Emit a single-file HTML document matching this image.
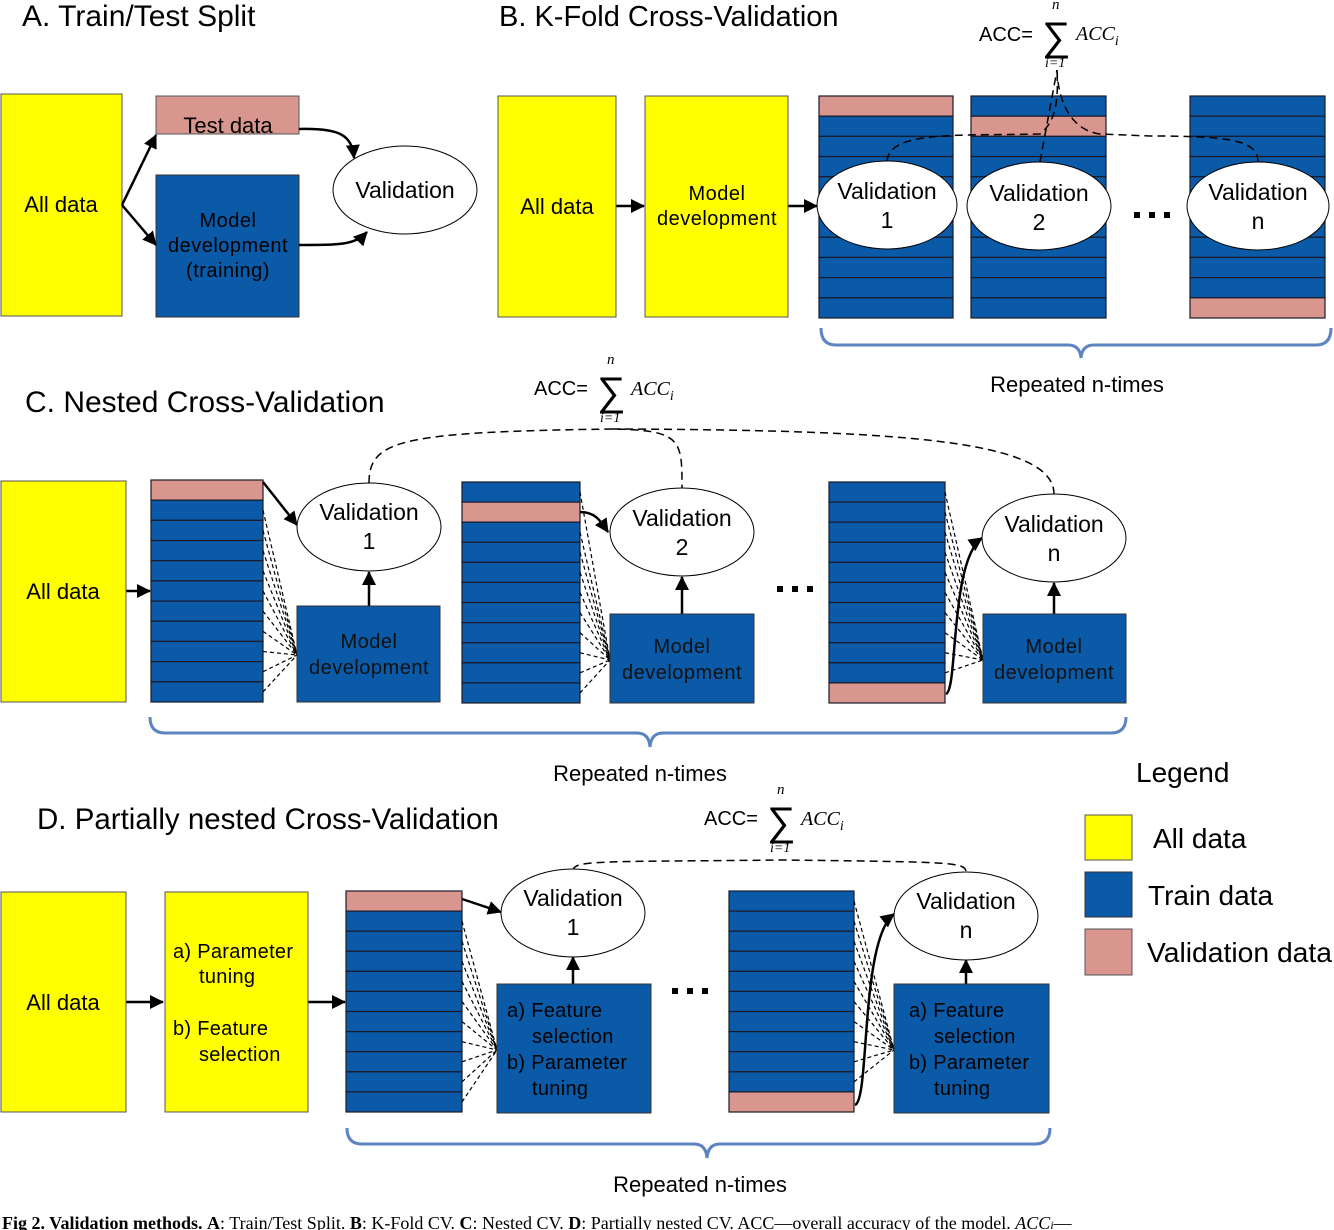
<!DOCTYPE html>
<html><head><meta charset="utf-8"><style>
body{margin:0;background:#fff}
svg{display:block}
text{font-family:"Liberation Sans",sans-serif;fill:#000}
.t{font-size:29px}
.l{font-size:28px}
.b{font-size:22px}
.e{font-size:23px}
.m{font-family:"Liberation Serif",serif;font-style:italic}
.cap{font-family:"Liberation Serif",serif;font-size:18px}
</style></head><body>
<svg id="s" width="1334" height="1230" viewBox="0 0 1334 1230" xmlns="http://www.w3.org/2000/svg">
<defs>
<marker id="ar" markerWidth="14" markerHeight="14" refX="13" refY="7" orient="auto" markerUnits="userSpaceOnUse"><path d="M0,0 L14,7 L0,14 z" fill="#000"/></marker>
</defs>
<g id="stk"></g>
<g fill="none" stroke="#000" stroke-width="1.5" stroke-dasharray="8,5">
<path d="M887,161 C890,130 960,136 1040,134 C1058,120 1058,95 1057,70"/>
<path d="M1040,162 L1057,70"/>
<path d="M1258,162 C1258,140 1230,136 1150,136 L1100,134 C1070,130 1058,100 1057,70"/>
<path d="M369,483 C369,440 400,432 612,429 C682,430 682,440 682,488"/>
<path d="M612,429 C900,430 1054,440 1054,494"/>
<path d="M573,870 C575,860 600,862 783,860 C950,862 966,862 966,872"/>
</g>
<text x="22" y="26" style="font-size:30px">A. Train/Test Split</text>
<rect x="1" y="94" width="121" height="222" fill="#ffff00" stroke="#555"/>
<text class="b" x="61" y="212" text-anchor="middle">All data</text>
<rect x="156" y="96" width="143" height="38" fill="#d8968e" stroke="#555"/>
<text class="b" x="228" y="133" text-anchor="middle">Test data</text>
<rect x="156" y="175" width="143" height="142" fill="#0b5aa7" stroke="#333"/>
<text font-size="20" x="228" y="227" text-anchor="middle" style="letter-spacing:0.5px">Model</text>
<text font-size="20" x="228" y="252" text-anchor="middle" style="letter-spacing:0.5px">development</text>
<text font-size="20" x="228" y="277" text-anchor="middle" style="letter-spacing:0.5px">(training)</text>
<ellipse cx="405" cy="190" rx="72" ry="44" fill="#fff" stroke="#000"/>
<text class="e" x="405" y="198" text-anchor="middle">Validation</text>
<g fill="none" stroke="#000" stroke-width="2.5" marker-end="url(#ar)">
<path d="M122,205 L156,135"/><path d="M122,205 L156,245"/>
<path d="M299,129 C340,128 352,135 354,158"/>
<path d="M299,245 C340,245 355,245 367,232"/>
<path d="M616,206 L644,206"/><path d="M788,206 L817,206"/>
<path d="M126,591 L150,591"/>
<path d="M263,482 L297,525"/>
<path d="M369,606 L369,572"/>
<path d="M580,512 C595,512 600,520 608,532"/>
<path d="M682,614 L682,577"/>
<path d="M946,694 C958,690 950,560 982,538"/>
<path d="M1054,614 L1054,583"/>
<path d="M126,1002 L163,1002"/><path d="M308,1002 L345,1002"/>
<path d="M462,899 L501,912"/>
<path d="M573,984 L573,957"/>
<path d="M855,1105 C870,1100 860,940 894,914"/>
<path d="M966,984 L966,960"/>
</g>
<text x="499" y="26" style="font-size:29px">B. K-Fold Cross-Validation</text>
<text font-size="20" x="979" y="41">ACC=</text>
<text font-size="40" x="1042" y="50">∑</text>
<text class="m" font-size="15" x="1052" y="9">n</text>
<text class="m" font-size="14" x="1045" y="67">i=1</text>
<text class="m" font-size="20" x="1076" y="40">ACC<tspan font-size="14" dy="5">i</tspan></text>
<rect x="498" y="96" width="118" height="221" fill="#ffff00" stroke="#555"/>
<text class="b" x="557" y="214" text-anchor="middle">All data</text>
<rect x="645" y="96" width="143" height="221" fill="#ffff00" stroke="#555"/>
<text font-size="20" x="717" y="200" text-anchor="middle" style="letter-spacing:0.5px">Model</text>
<text font-size="20" x="717" y="225" text-anchor="middle" style="letter-spacing:0.5px">development</text>
<g fill="#fff" stroke="#000">
<ellipse cx="887" cy="205" rx="70" ry="44"/><ellipse cx="1039" cy="206" rx="72" ry="44"/><ellipse cx="1258" cy="206" rx="71" ry="44"/>
<ellipse cx="369" cy="527" rx="72" ry="44"/><ellipse cx="682" cy="532" rx="72" ry="44"/><ellipse cx="1054" cy="538" rx="72" ry="44"/>
<ellipse cx="573" cy="913" rx="72" ry="44"/><ellipse cx="966" cy="916" rx="72" ry="44"/>
</g>
<text class="e" x="887" y="199" text-anchor="middle">Validation</text><text class="e" x="887" y="228" text-anchor="middle">1</text>
<text class="e" x="1039" y="201" text-anchor="middle">Validation</text><text class="e" x="1039" y="230" text-anchor="middle">2</text>
<text class="e" x="1258" y="200" text-anchor="middle">Validation</text><text class="e" x="1258" y="229" text-anchor="middle">n</text>
<text class="e" x="369" y="520" text-anchor="middle">Validation</text><text class="e" x="369" y="549" text-anchor="middle">1</text>
<text class="e" x="682" y="526" text-anchor="middle">Validation</text><text class="e" x="682" y="555" text-anchor="middle">2</text>
<text class="e" x="1054" y="532" text-anchor="middle">Validation</text><text class="e" x="1054" y="561" text-anchor="middle">n</text>
<text class="e" x="573" y="906" text-anchor="middle">Validation</text><text class="e" x="573" y="935" text-anchor="middle">1</text>
<text class="e" x="966" y="909" text-anchor="middle">Validation</text><text class="e" x="966" y="938" text-anchor="middle">n</text>
<g fill="#000">
<rect x="1134" y="212" width="6" height="6"/><rect x="1149" y="212" width="6" height="6"/><rect x="1164" y="212" width="6" height="6"/>
<rect x="777" y="586" width="6" height="6"/><rect x="792" y="586" width="6" height="6"/><rect x="807" y="586" width="6" height="6"/>
<rect x="672" y="988" width="6" height="6"/><rect x="687" y="988" width="6" height="6"/><rect x="702" y="988" width="6" height="6"/>
</g>
<g fill="none" stroke="#5b84c0" stroke-width="3">
<path d="M821,328 Q821,345 836,345 L1068,345 Q1080,345 1081,358 Q1082,345 1094,345 L1316,345 Q1331,345 1331,328"/>
<path d="M150,717 Q150,733 165,733 L637,733 Q649,733 650,747 Q651,733 663,733 L1111,733 Q1126,733 1126,717"/>
<path d="M347,1128 Q347,1144 362,1144 L694,1144 Q706,1144 707,1158 Q708,1144 720,1144 L1035,1144 Q1050,1144 1050,1128"/>
</g>
<text class="b" x="1077" y="392" text-anchor="middle">Repeated n-times</text>
<text class="b" x="640" y="781" text-anchor="middle">Repeated n-times</text>
<text class="b" x="700" y="1192" text-anchor="middle">Repeated n-times</text>
<text x="25" y="412" style="font-size:30px">C. Nested Cross-Validation</text>
<text font-size="20" x="534" y="395">ACC=</text>
<text font-size="40" x="597" y="405">∑</text>
<text class="m" font-size="15" x="607" y="364">n</text>
<text class="m" font-size="14" x="600" y="422">i=1</text>
<text class="m" font-size="20" x="631" y="395">ACC<tspan font-size="14" dy="5">i</tspan></text>
<rect x="1" y="481" width="125" height="221" fill="#ffff00" stroke="#555"/>
<text class="b" x="63" y="599" text-anchor="middle">All data</text>
<g fill="#0b5aa7" stroke="#333">
<rect x="297" y="606" width="143" height="96"/><rect x="610" y="614" width="144" height="89"/><rect x="983" y="614" width="143" height="89"/>
<rect x="497" y="984" width="154" height="129"/><rect x="894" y="984" width="155" height="129"/>
</g>
<g font-size="20" text-anchor="middle" style="letter-spacing:0.5px">
<text x="369" y="648" style="fill:#111">Model</text><text x="369" y="674" style="fill:#111">development</text>
<text x="682" y="653" style="fill:#111">Model</text><text x="682" y="679" style="fill:#111">development</text>
<text x="1054" y="653" style="fill:#111">Model</text><text x="1054" y="679" style="fill:#111">development</text>
</g>
<text x="37" y="829" style="font-size:29.5px">D. Partially nested Cross-Validation</text>
<text font-size="20" x="704" y="825">ACC=</text>
<text font-size="40" x="767" y="835">∑</text>
<text class="m" font-size="15" x="777" y="794">n</text>
<text class="m" font-size="14" x="770" y="852">i=1</text>
<text class="m" font-size="20" x="801" y="825">ACC<tspan font-size="14" dy="5">i</tspan></text>
<rect x="1" y="892" width="125" height="220" fill="#ffff00" stroke="#555"/>
<text class="b" x="63" y="1010" text-anchor="middle">All data</text>
<rect x="165" y="892" width="143" height="220" fill="#ffff00" stroke="#555"/>
<g font-size="20" style="letter-spacing:0.3px">
<text x="173" y="958">a) Parameter</text><text x="199" y="983">tuning</text>
<text x="173" y="1035">b) Feature</text><text x="199" y="1061">selection</text>
<text x="507" y="1017">a) Feature</text><text x="532" y="1043">selection</text>
<text x="507" y="1069">b) Parameter</text><text x="532" y="1095">tuning</text>
<text x="909" y="1017">a) Feature</text><text x="934" y="1043">selection</text>
<text x="909" y="1069">b) Parameter</text><text x="934" y="1095">tuning</text>
</g>
<text class="l" x="1136" y="782">Legend</text>
<rect x="1085" y="815" width="47" height="45" fill="#ffff00" stroke="#555"/>
<rect x="1085" y="872" width="47" height="45" fill="#0b5aa7" stroke="#333"/>
<rect x="1085" y="929" width="47" height="46" fill="#d8968e" stroke="#555"/>
<text class="l" x="1153" y="848">All data</text>
<text class="l" x="1148" y="905">Train data</text>
<text x="1147" y="962" style="font-size:28px" textLength="185" lengthAdjust="spacingAndGlyphs">Validation data</text>
<text class="cap" x="2" y="1229"><tspan font-weight="bold">Fig 2.  Validation methods.</tspan> <tspan font-weight="bold">A</tspan>: Train/Test Split. <tspan font-weight="bold">B</tspan>: K-Fold CV. <tspan font-weight="bold">C</tspan>: Nested CV. <tspan font-weight="bold">D</tspan>: Partially nested CV. ACC—overall accuracy of the model. <tspan font-style="italic">ACC<tspan font-size="12">i</tspan></tspan>—</text>
</svg>
<script>
var g=document.getElementById('stk'),NS="http://www.w3.org/2000/svg";
function el(t,a){var e=document.createElementNS(NS,t);for(var k in a)e.setAttribute(k,a[k]);g.appendChild(e);return e;}
function stack(x,y,w,h,n,p,fan){
 var rh=h/n;
 for(var i=0;i<n;i++){el('rect',{x:x,y:y+i*rh,width:w,height:rh,fill:i==p?'#d8968e':'#0b5aa7',stroke:'#1a1a2a','stroke-width':1.2});}
 if(fan){for(var i=0;i<n;i++){if(i==p)continue;el('line',{x1:x+w,y1:y+i*rh+rh/2,x2:fan[0],y2:fan[1],stroke:'#000','stroke-width':1.2,'stroke-dasharray':'4,3'});}}
}
stack(819,96,134,222,11,0);stack(971,96,135,222,11,1);stack(1190,96,135,222,11,10);
stack(151,480,112,222,11,0,[297,655]);stack(462,482,118,221,11,1,[610,660]);stack(829,482,116,221,11,10,[983,660]);
stack(346,891,116,221,11,0,[497,1050]);stack(729,891,125,221,11,10,[894,1050]);
</script>
</body></html>
